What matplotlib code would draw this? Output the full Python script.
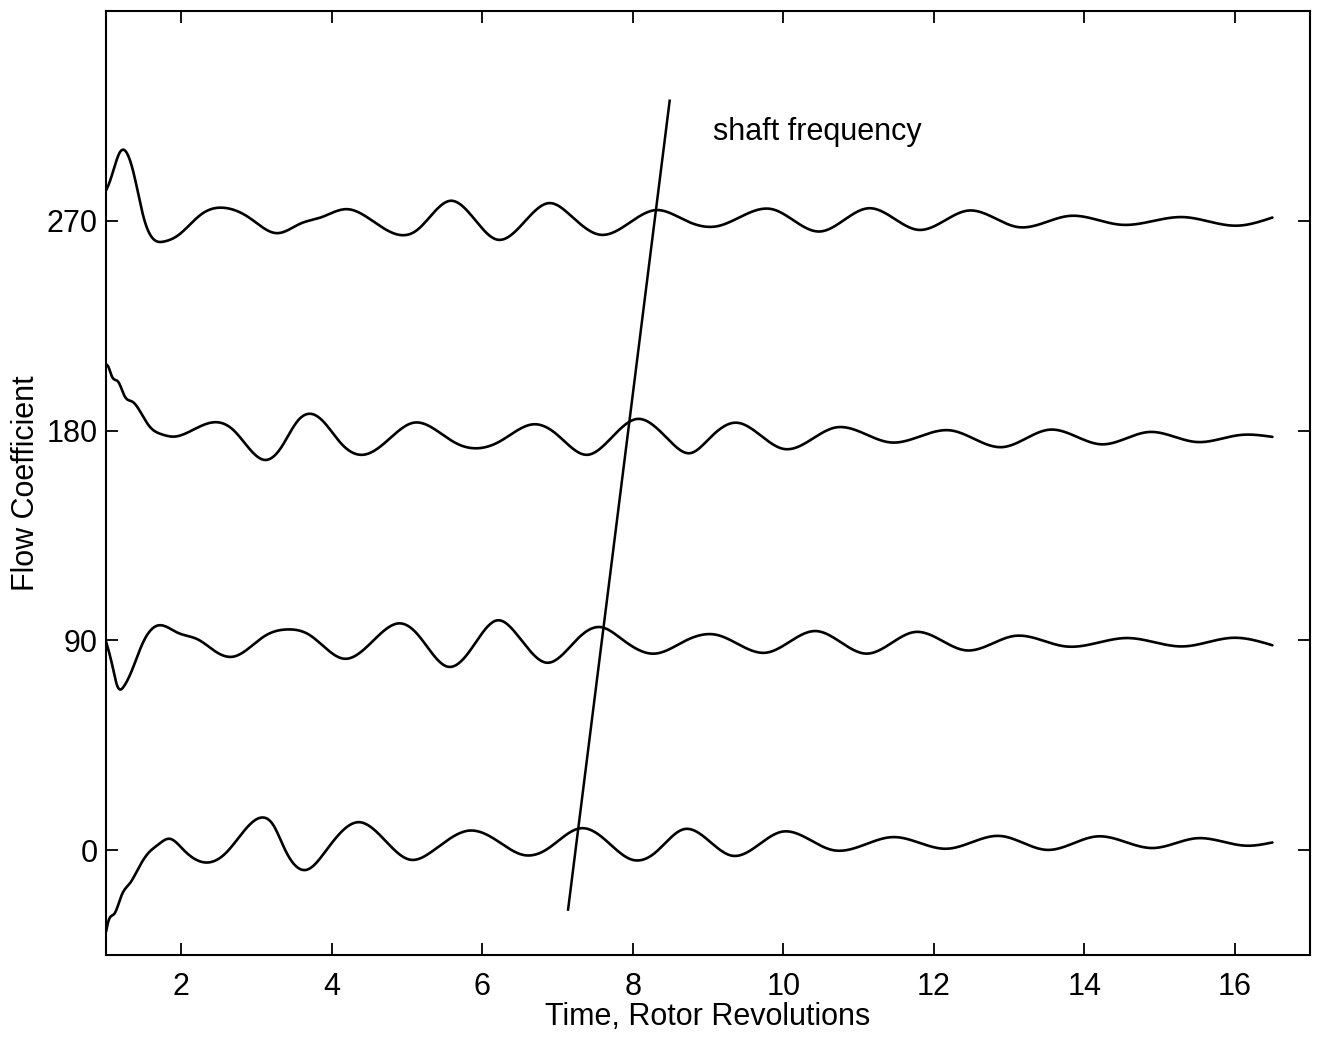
import matplotlib
matplotlib.use("Agg")
import matplotlib.pyplot as plt
import numpy as np

plt.rcParams['font.family'] = ['Liberation Sans', 'DejaVu Sans']

# Curve at offset 270
t270 = [1.0, 1.045, 1.19, 1.37, 1.50, 1.77, 1.95, 2.27, 2.61, 2.90, 3.27, 3.59, 3.85, 4.20, 4.54,
        4.91, 5.12, 5.58, 5.86, 6.20, 6.49, 6.89, 7.18, 7.57, 7.86, 8.31, 8.71, 9.11, 9.85, 10.48,
        11.14, 11.80, 12.46, 13.12, 13.80, 14.49, 15.31, 16.02, 16.5]
v270 = [283, 286.4, 299.7, 290, 271.4, 261.1, 263.6, 272.9, 275.4, 271.4, 264.7, 268.9, 271.4, 275.0, 270.0,
        263.9, 265.7, 278.6, 272.1, 261.9, 267.1, 277.6, 272.1, 264.0, 267.1, 274.6, 270.0, 267.6, 275.0, 265.4,
        275.4, 266.1, 274.4, 267.3, 272.1, 268.3, 271.6, 267.9, 271.4]

# Curve at offset 180
t180 = [1.0, 1.03, 1.08, 1.16, 1.25, 1.35, 1.48, 1.58, 1.74, 1.90, 2.08, 2.45, 2.69, 2.90, 3.11, 3.32,
        3.54, 3.74, 3.91, 4.12, 4.41, 4.70, 5.09, 5.38, 5.65, 5.91, 6.23, 6.68, 6.97, 7.39, 7.71,
        8.06, 8.50, 8.76, 9.02, 9.37, 10.01, 10.69, 11.43, 12.22, 12.91, 13.54, 14.23, 14.86,
        15.49, 16.07, 16.5]
v180 = [208.5, 207.4, 203.1, 201.0, 194.6, 192.4, 186.7, 181.7, 178.4, 177.4, 179.1, 183.6, 180.3, 172.4, 167.4, 172.4,
        183.9, 187.1, 183.1, 174.6, 169.6, 174.6, 183.4, 180.3, 174.6, 172.4, 175.3, 182.7, 178.9, 169.6, 176.7,
        185.0, 175.3, 170.3, 176.7, 183.4, 172.1, 181.3, 174.9, 180.1, 172.9, 180.4, 174.1, 179.4,
        175.1, 178.1, 177.3]

# Curve at offset 90
t90 = [1.0, 1.08, 1.15, 1.24, 1.35, 1.48, 1.69, 1.95, 2.22, 2.48, 2.69, 3.11, 3.43, 3.69, 4.17, 4.59,
       4.90, 5.12, 5.54, 5.80, 6.20, 6.44, 6.86, 7.28, 7.57, 7.86, 8.29, 8.71, 9.11, 9.77, 10.43,
       11.11, 11.75, 12.43, 13.07, 13.75, 14.57, 15.31, 15.97, 16.5]
v90 = [89.5, 79.7, 70.4, 70.4, 77.6, 88.3, 96.4, 93.3, 90.4, 84.7, 83.0, 91.9, 94.7, 92.6, 82.1, 91.1,
       97.3, 93.3, 78.7, 84.0, 98.6, 93.3, 80.4, 91.1, 95.7, 90.4, 84.3, 90.0, 92.4, 84.7, 94.0,
       84.3, 93.6, 85.7, 91.9, 87.4, 91.0, 87.4, 91.1, 87.9]

# Curve at offset 0
t0 = [1.0, 1.03, 1.11, 1.21, 1.32, 1.42, 1.56, 1.69, 1.84, 2.03, 2.32, 2.59, 3.09, 3.22, 3.38, 3.67,
      3.93, 4.36, 4.59, 5.04, 5.33, 5.83, 6.18, 6.55, 6.86, 7.31, 7.55, 7.99, 8.29, 8.68, 9.32,
      9.98, 10.66, 11.46, 12.17, 12.88, 13.51, 14.17, 14.91, 15.49, 16.15, 16.5]
v0 = [-35.0, -30.6, -27.3, -19.1, -14.1, -8.4, -1.3, 2.3, 4.9, 0.1, -5.3, -1.3, 14.0, 10.9, 0.1, -8.4,
      0.1, 12.0, 8.0, -4.1, -0.6, 8.4, 4.4, -2.1, 0.4, 9.4, 6.6, -4.1, -1.3, 9.0, -2.4,
      7.9, 0.0, 5.6, 0.6, 6.1, 0.1, 5.9, 0.9, 5.1, 1.9, 3.3]

# Shaft frequency line
shaft_t = [7.14, 8.49]
shaft_v = [-25.5, 321.5]

xticks = [2, 4, 6, 8, 10, 12, 14, 16]
yticks = [0, 90, 180, 270]


def spline(t, v, n=1500):
    """Natural cubic spline through the read points (pen trace smoothing)."""
    x = np.asarray(t, float)
    y = np.asarray(v, float)
    N = len(x)
    h = np.diff(x)
    A = np.zeros((N, N))
    r = np.zeros(N)
    A[0, 0] = 1.0
    A[-1, -1] = 1.0
    for i in range(1, N - 1):
        A[i, i - 1] = h[i - 1]
        A[i, i] = 2 * (h[i - 1] + h[i])
        A[i, i + 1] = h[i]
        r[i] = 3 * ((y[i + 1] - y[i]) / h[i] - (y[i] - y[i - 1]) / h[i - 1])
    c = np.linalg.solve(A, r)
    b = (y[1:] - y[:-1]) / h - h * (2 * c[:-1] + c[1:]) / 3
    d = (c[1:] - c[:-1]) / (3 * h)
    xx = np.linspace(x[0], x[-1], n)
    idx = np.clip(np.searchsorted(x, xx) - 1, 0, N - 2)
    dx = xx - x[idx]
    yy = y[idx] + b[idx] * dx + c[idx] * dx**2 + d[idx] * dx**3
    return xx, yy


fig = plt.figure(figsize=(13.19, 10.40), dpi=100)
ax = fig.add_axes([0.0804, 0.0817, 0.9128, 0.9077])

for t, v in [(t270, v270), (t180, v180), (t90, v90), (t0, v0)]:
    tt, vv = spline(t, v)
    ax.plot(tt, vv, color='black', lw=1.9, solid_capstyle='round', solid_joinstyle='round')

ax.plot(shaft_t, shaft_v, color='black', lw=1.8)
ax.text(9.06, 308, 'shaft frequency', fontsize=22, va='center', ha='left')

ax.set_xlim(1, 17)
ax.set_ylim(-45, 360)
ax.set_xticks(xticks)
ax.set_yticks(yticks)
ax.tick_params(direction='in', length=8.5, width=1.3, labelsize=22,
               top=True, right=True)
ax.tick_params(axis='x', pad=12)
ax.tick_params(axis='y', pad=6)
for sp in ax.spines.values():
    sp.set_linewidth(1.5)

ax.set_xlabel('Time, Rotor Revolutions', fontsize=22, labelpad=0)
ax.set_ylabel('Flow Coefficient', fontsize=22, labelpad=4)

fig.savefig('out.png', dpi=100)
